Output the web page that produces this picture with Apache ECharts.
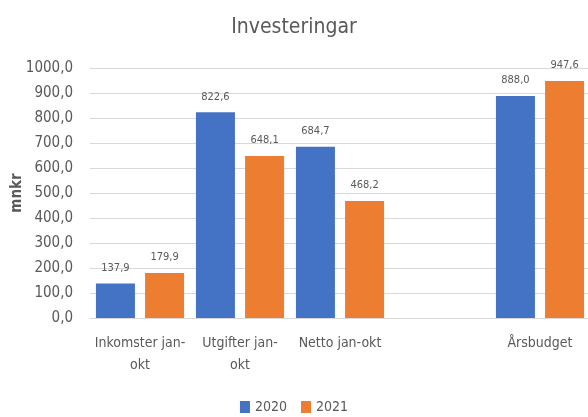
<!DOCTYPE html>
<html lang="sv" style="height: 100%">
<head>
  <meta charset="utf-8">
  <title>Investeringar</title>
  <script type="text/javascript" src="https://fastly.jsdelivr.net/npm/echarts@6/dist/echarts.min.js"></script>
</head>
<body style="height: 100%; margin: 0; background: #fff">
  <div id="chart" style="width: 588px; height: 417px"></div>

  <script type="text/javascript">
    var dom = document.getElementById('chart');
    var myChart = echarts.init(dom);

    let categories = ['Inkomster jan-\nokt', 'Utgifter jan-\nokt', 'Netto jan-okt', '', 'Årsbudget'];
    let values2020 = [137.9, 822.6, 684.7, null, 888.0];
    let values2021 = [179.9, 648.1, 468.2, null, 947.6];

    let font = "'Liberation Sans Narrow', 'DejaVu Sans Condensed', 'Roboto', sans-serif";
    let grey = '#595959';
    let fmt = v => v.toFixed(1).replace('.', ',');

    let label = {
      show: true,
      position: 'top',
      distance: 10,
      color: grey,
      fontSize: 11,
      fontFamily: font,
      formatter: p => fmt(p.value)
    };

    let option = {
      textStyle: { fontFamily: font },
      title: {
        text: 'Investeringar',
        left: 'center',
        top: 12,
        textStyle: { fontSize: 21, fontWeight: 'normal', color: grey, fontFamily: font }
      },
      legend: {
        bottom: -2,
        left: 'center',
        itemWidth: 10,
        itemHeight: 12,
        itemGap: 14,
        icon: 'rect',
        textStyle: { fontSize: 14, color: grey, fontFamily: font }
      },
      grid: { left: 90, right: -2, top: 68, bottom: 99, outerBoundsMode: 'none' },
      xAxis: {
        type: 'category',
        data: categories,
        axisTick: { show: false },
        axisLine: { lineStyle: { color: '#d9d9d9' } },
        axisLabel: { color: grey, fontSize: 14, lineHeight: 22, margin: 14, interval: 0, fontFamily: font }
      },
      yAxis: {
        type: 'value',
        min: 0,
        max: 1000,
        interval: 100,
        name: 'mnkr',
        nameLocation: 'middle',
        nameGap: 65,
        nameMoveOverlap: false,
        nameTextStyle: { fontSize: 15, fontWeight: 'bold', color: grey, fontFamily: font },
        axisLabel: { color: grey, fontSize: 15, margin: 17, formatter: fmt, fontFamily: font },
        splitLine: { lineStyle: { color: '#d9d9d9' } }
      },
      series: [
        {
          name: '2020',
          type: 'bar',
          data: values2020,
          barWidth: 39,
          barGap: '26%',
          itemStyle: { color: '#4472C4' },
          label: label
        },
        {
          name: '2021',
          type: 'bar',
          data: values2021,
          barWidth: 39,
          barGap: '26%',
          itemStyle: { color: '#ED7D31' },
          label: label
        }
      ]
    };

    myChart.setOption(option);
  </script>
</body>
</html>
